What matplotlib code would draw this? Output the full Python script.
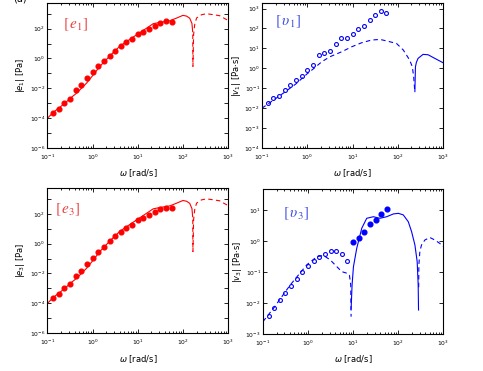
import numpy as np
import matplotlib
matplotlib.use('Agg')
import matplotlib.pyplot as plt
from matplotlib.ticker import LogLocator, NullLocator, NullFormatter

# frequency grid of the measured points [rad/s]
w_data = [0.133, 0.178, 0.237, 0.316, 0.422, 0.562, 0.750, 1.00, 1.33, 1.78, 2.37,
          3.16, 4.22, 5.62, 7.50, 10.0, 13.3, 17.8, 23.7, 31.6, 42.2, 56.2]

# |e1| data and model [Pa]
e1_data = [2.3e-4, 4.4e-4, 1.1e-3, 2.0e-3, 7.4e-3, 1.6e-2, 4.9e-2, 0.12, 0.32, 0.68, 1.55,
           3.4, 6.6, 12, 20, 42, 56, 95, 150, 250, 310, 263]
e1_pos_w = [0.1, 0.135, 0.2, 0.27, 0.355, 0.447, 0.562, 0.741, 1.0, 1.45, 2.43, 3.98, 7.94,
            15.8, 21.9, 30.9, 51.3, 72.4, 100, 120, 141, 158, 164]
e1_pos = [1.0e-4, 2.5e-4, 6.3e-4, 1.35e-3, 2.8e-3, 4.9e-3, 1.0e-2, 2.3e-2, 7.1e-2, 0.30, 1.55,
          6.6, 27.5, 110, 214, 263, 339, 513, 776, 692, 501, 224, 63]
e1_neg_w = [165, 166.3, 172, 182, 200, 257, 331, 457, 646, 832, 1000]
e1_neg = [40, 0.295, 40, 186, 513, 851, 1000, 871, 741, 479, 355]

# |e3| data and model [Pa]
e3_data = [2.2e-4, 4.0e-4, 1.0e-3, 1.9e-3, 6.9e-3, 1.5e-2, 4.5e-2, 0.11, 0.29, 0.62, 1.4,
           3.1, 6.0, 11, 18, 38, 51, 86, 135, 225, 260, 235]
e3_pos_w = e1_pos_w
e3_pos = e1_pos
e3_neg_w = e1_neg_w
e3_neg = e1_neg

# |v1| data and model [Pa s]
v1_data = [0.018, 0.032, 0.043, 0.083, 0.148, 0.26, 0.42, 0.79, 1.48, 4.7, 6.0,
           7.6, 15.8, 35, 34, 54, 93, 135, 263, 500, 760, 590]
v1_neg_w = [0.1, 0.178, 0.316, 0.562, 1.0, 1.41, 2.09, 3.16, 5.75, 9.55, 15.8, 26.3, 40.7,
            55, 93.3, 132, 182, 209, 224, 237]
v1_neg = [0.01, 0.025, 0.063, 0.166, 0.537, 1.0, 2.14, 3.8, 6.76, 12.0, 19.1, 26.3, 28.2,
          24, 17.8, 8.3, 2.63, 1.2, 0.38, 0.068]
v1_pos_w = [238, 245, 257, 280, 361, 466, 655, 1000]
v1_pos = [0.068, 1.2, 2.0, 3.16, 5.0, 4.8, 3.16, 1.9]

# |v3| data and model [Pa s]
v3_open = [0.0038, 0.0068, 0.0126, 0.0214, 0.0355, 0.0575, 0.098, 0.155, 0.224, 0.295, 0.372,
           0.457, 0.457, 0.380, 0.224]
v3_fill = [0.89, 1.23, 2.0, 3.47, 4.9, 7.6, 10.7]
v3_neg1_w = [0.1, 0.172, 0.403, 0.942, 1.57, 2.2, 3.1, 4.35, 5.61, 7.24, 8.3, 8.87, 9.04]
v3_neg1 = [2.5e-3, 6.8e-3, 0.038, 0.17, 0.31, 0.34, 0.245, 0.148, 0.102, 0.091, 0.079, 0.038, 3.6e-3]
v3_pos_w = [9.04, 9.5, 10.2, 12.05, 15.6, 20.1, 28.2, 39.6, 55.6, 78.2, 101, 130, 168, 199,
            236, 265, 279, 284]
v3_pos = [6.3e-3, 0.038, 0.148, 0.575, 2.57, 5.37, 6.03, 5.37, 6.03, 7.41, 7.76, 6.92, 4.17,
          2.0, 0.74, 0.214, 0.038, 5.9e-3]
v3_neg2_w = [286, 289, 304, 331, 393, 507, 653, 843, 1000]
v3_neg2 = [0.032, 0.17, 0.457, 0.74, 1.07, 1.29, 1.07, 0.83, 0.66]

RED = '#ff0000'
BLUE = '#0000ff'
DASH = (0, (4, 3))


def sup(k):
    return r'$10^{%d}$' % k


def style(ax, ylo, yhi, every):
    ax.set_xscale('log')
    ax.set_yscale('log')
    ax.set_xlim(0.1, 1000)
    ax.set_ylim(10.0**ylo, 10.0**yhi)
    ax.set_xticks([0.1, 1, 10, 100, 1000])
    ax.set_xticklabels([sup(k) for k in range(-1, 4)])
    ax.xaxis.set_minor_locator(LogLocator(base=10, subs=np.arange(2, 10), numticks=20))
    ax.xaxis.set_minor_formatter(NullFormatter())
    ks = list(range(int(np.ceil(ylo)), int(np.floor(yhi)) + 1))
    ax.set_yticks([10.0**k for k in ks])
    ax.set_yticklabels([sup(k) if (k - ks[0]) % every == 0 else '' for k in ks])
    ax.yaxis.set_minor_locator(NullLocator())
    ax.tick_params(which='both', direction='in', top=True, right=True, labelsize=4.3,
                   width=0.6)
    ax.tick_params(axis='x', pad=3.5)
    ax.tick_params(axis='y', pad=1.5)
    ax.tick_params(which='major', length=3)
    ax.tick_params(which='minor', length=1.5)
    for s in ax.spines.values():
        s.set_linewidth(0.8)
    ax.set_xlabel(r'$\omega$ [rad/s]', fontsize=6, labelpad=4)


fig = plt.figure(figsize=(4.83, 3.71), dpi=100)
ax1 = fig.add_axes([0.0983, 0.601, 0.374, 0.391])
ax2 = fig.add_axes([0.5424, 0.601, 0.375, 0.391])
ax3 = fig.add_axes([0.0983, 0.102, 0.374, 0.391])
ax4 = fig.add_axes([0.5445, 0.100, 0.373, 0.391])

# partly hidden panel tag at the top edge
fig.text(0.027, 1.005, '(a)', fontsize=7, va='center')

# e1
ax1.plot(e1_pos_w, e1_pos, color=RED, lw=0.8)
ax1.plot(e1_neg_w, e1_neg, color=RED, lw=0.8, linestyle=DASH)
ax1.plot(w_data, e1_data, 'o', color=RED, ms=3.4, mec=RED)
style(ax1, -6, 3.72, 2)
ax1.set_ylabel(r'$|e_1|$ [Pa]', fontsize=6, labelpad=2)
ax1.text(0.085, 0.85, r'$\left[\,e_1\right]$', transform=ax1.transAxes, color='#e84040',
         fontsize=11, va='center', math_fontfamily='stix')

# v1
ax2.plot(v1_neg_w, v1_neg, color=BLUE, lw=0.8, linestyle=DASH)
ax2.plot(v1_pos_w, v1_pos, color=BLUE, lw=0.8)
ax2.plot(w_data, v1_data, 'o', color=BLUE, ms=2.8, mfc='none', mew=0.8)
style(ax2, -4, 3.28, 1)
ax2.set_ylabel(r'$|v_1|$ [Pa$\cdot$s]', fontsize=6, labelpad=1)
ax2.text(0.07, 0.87, r'$\left[\,\upsilon_1\right]$', transform=ax2.transAxes, color='#4050e0',
         fontsize=11, va='center', math_fontfamily='stix')

# e3
ax3.plot(e3_pos_w, e3_pos, color=RED, lw=0.8)
ax3.plot(e3_neg_w, e3_neg, color=RED, lw=0.8, linestyle=DASH)
ax3.plot(w_data, e3_data, 'o', color=RED, ms=3.4, mec=RED)
style(ax3, -6, 3.72, 2)
ax3.set_ylabel(r'$|e_3|$ [Pa]', fontsize=6, labelpad=2)
ax3.text(0.04, 0.85, r'$\left[\,e_3\right]$', transform=ax3.transAxes, color='#e84040',
         fontsize=11, va='center', math_fontfamily='stix')

# v3
ax4.plot(v3_neg1_w, v3_neg1, color=BLUE, lw=0.8, linestyle=DASH)
ax4.plot(v3_pos_w, v3_pos, color=BLUE, lw=0.8)
ax4.plot(v3_neg2_w, v3_neg2, color=BLUE, lw=0.8, linestyle=DASH)
ax4.plot(w_data[:15], v3_open, 'o', color=BLUE, ms=2.8, mfc='none', mew=0.8)
ax4.plot(w_data[15:], v3_fill, 'o', color=BLUE, ms=3.4)
style(ax4, -3, 1.68, 1)
ax4.set_ylabel(r'$|v_3|$ [Pa$\cdot$s]', fontsize=6, labelpad=1)
ax4.text(0.11, 0.83, r'$\left[\,\upsilon_3\right]$', transform=ax4.transAxes, color='#4050e0',
         fontsize=11, va='center', math_fontfamily='stix')

fig.savefig('out.png', dpi=100)
